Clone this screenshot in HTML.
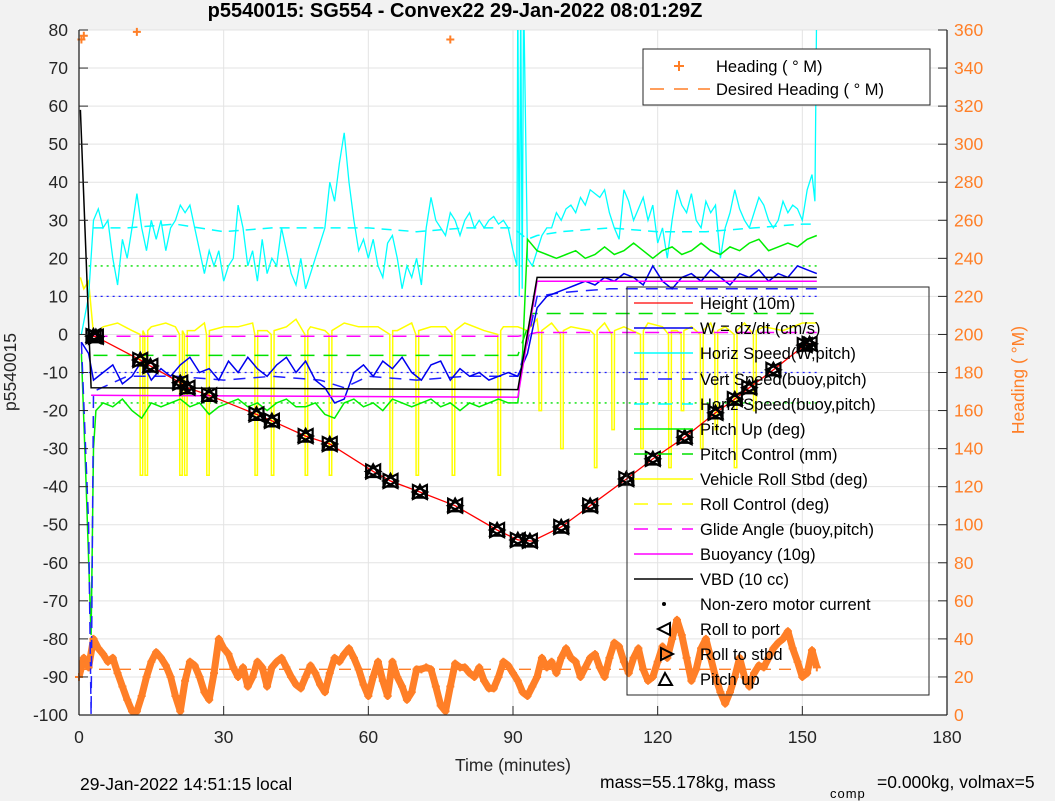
<!DOCTYPE html>
<html><head><meta charset="utf-8"><style>
body{margin:0;background:#f2f2f2;}
svg{display:block;font-family:"Liberation Sans",sans-serif;}
</style></head><body>
<svg id="c" width="1055" height="801" viewBox="0 0 1055 801"></svg>
<script>
// ---- data ----
const xTicks=[0,30,60,90,120,150,180];
const yTicks=[80,70,60,50,40,30,20,10,0,-10,-20,-30,-40,-50,-60,-70,-80,-90,-100];
const rTicks=[0,20,40,60,80,100,120,140,160,180,200,220,240,260,280,300,320,340,360];
const heightT=[2.5,3.5,12.7,14.8,21,22.5,27,36.8,40,47,52,61,64.6,70.7,78,86.7,91,94,100,106,113.5,119,125.6,132,136,139,144,150.5,153];
const heightV=[-0.3,-0.6,-6.7,-8.3,-12.7,-14,-16,-21,-22.7,-26.7,-28.8,-36,-38.5,-41.4,-45,-51.4,-54,-54.3,-50.6,-45,-38,-32.7,-27,-20.6,-17,-14,-9.3,-2.8,-2];
const markT=[3,3.5,12.7,14.8,21,22.5,27,36.8,40,47,52,61,64.6,70.7,78,86.7,91,93.5,100,106,113.5,119,125.6,132,136,139,144,150.5,151.5];
const vbdT=[0.3,2.5,91,95,153];
const vbdV=[59,-14,-14.5,15,15];
const buoyT=[2.5,91,95,153];
const buoyV=[-16,-16.5,14,14];
const glideT=[3,91,95,153];
const glideV=[-0.5,-0.5,0.5,0.5];
const pitchCtlT=[3,91,94,153];
const pitchCtlV=[-5.5,-5.5,5.5,5.5];
const pitchT=[0.5,1.5,2.5,3,3.5,5,7,9,11,13,15,17,19,21,23,25,27,29,31,33,35,37,39,41,43,45,47,49,51,53,55,57,59,61,63,65,67,69,71,73,75,77,79,81,83,85,87,89,91,92,93,95,97,99,101,103,105,107,109,111,113,115,117,119,121,123,125,127,129,131,133,135,137,139,141,143,145,147,149,151,153];
const pitchV=[-5,-40,-79,-30,-20,-18,-19,-17,-20,-22,-18,-19,-18,-17,-19,-18,-21,-19,-18,-17,-19,-18,-20,-18,-17,-19,-19,-18,-21,-22,-18,-17,-19,-18,-20,-17,-18,-19,-18,-17,-19,-18,-20,-18,-19,-18,-17,-18,-18,-5,25,22,21,20,21,22,20,21,23,21,22,24,22,20,22,23,21,22,24,22,21,23,22,24,25,22,23,24,23,25,26];
const wT=[0.5,2,3,5,7,9,11,13,15,17,19,21,23,25,27,29,31,33,35,37,39,41,43,45,47,49,51,53,55,57,59,61,63,65,67,69,71,73,75,77,79,81,83,85,87,89,91,93,95,97,99,101,103,105,107,109,111,113,115,117,119,121,123,125,127,129,131,133,135,137,139,141,143,145,147,149,151,153];
const wV=[-2,-5,-12,-10,-8,-13,-11,-7,-12,-9,-11,-8,-6,-10,-9,-12,-7,-10,-6,-9,-11,-8,-6,-10,-7,-12,-14,-18,-17,-10,-8,-11,-7,-9,-6,-10,-12,-8,-7,-12,-9,-11,-10,-12,-11,-10,-11,-5,7,10,11,12,13,14,13,15,14,16,15,13,18,14,12,15,16,14,17,15,13,16,15,17,14,16,15,18,17,16];
const vsT=[0.5,2,2.5,3,10,20,30,40,50,55,60,70,80,91,93,95,100,110,120,130,140,150,153];
const vsV=[-2,-50,-100,-15,-11,-11,-12,-11,-12,-14,-11,-12,-11,-11,-2,10,11,12,12,12,12,12,12];
const hsT=[0.5,2,3,4,5,6,7,8,9,10,11,12,13,14,15,16,17,18,19,20,21,22,23,24,25,26,27,28,29,30,31,32,33,34,35,36,37,38,39,40,41,42,43,44,45,46,47,48,49,50,51,52,53,54,55,56,57,58,59,60,61,62,63,64,65,66,67,68,69,70,71,72,73,74,75,76,77,78,79,80,81,82,83,84,85,86,87,88,89,90,90.8,91,91.3,91.6,91.9,92.2,93,94,95,96,97,98,99,100,101,102,103,104,105,106,107,108,109,110,111,112,113,114,115,116,117,118,119,120,121,122,123,124,125,126,127,128,129,130,131,132,133,134,135,136,137,138,139,140,141,142,143,144,145,146,147,148,149,150,151,152,152.6,153];
const hsV=[0,10,30,33,28,30,20,13,25,20,28,37,28,22,30,25,30,22,28,30,34,32,34,28,22,16,22,18,22,14,18,20,34,28,18,22,14,25,16,20,18,28,22,16,13,20,12,16,20,24,28,40,35,45,53,40,30,22,25,20,25,18,15,24,26,20,12,18,15,20,13,28,36,30,28,26,32,30,26,30,32,28,30,28,30,31,29,30,28,22,18,90,10,90,12,90,20,18,22,26,28,28,32,30,33,34,32,36,34,38,37,36,38,32,28,25,38,35,30,33,36,30,34,24,28,20,30,38,34,32,37,30,28,35,32,34,20,28,32,38,33,30,28,32,36,34,30,28,30,35,32,34,33,30,38,42,35,90];
const hsdT=[3,10,20,30,40,50,60,70,80,90,93,95,100,110,120,130,140,150,152];
const hsdV=[28,28,29,27,28,28,28,27,28,28,25,26,27,28,27,27,28,29,29];
const rollT=[0.3,1,2,3,5,8,11,15,18,20,24,26,30,33,36,39,43,45,48,51,55,58,62,66,69,73,76,80,84,88,91,93,95,98,102,106,109,113,118,121,124,127,131,134,138,142,146,150,153];
const rollV=[15,12,14,0,2,3,1,2,3,2,1,3,2,2,3,1,2,4,2,1,3,2,2,1,3,2,2,3,1,2,2,1,4,3,2,1,3,2,3,2,1,2,3,2,3,2,1,3,3];
const spikeT=[12.8,13.8,21,22,26.6,36.6,40,47,52,64.6,70,77.5,87,95.5,100,107,110.6,116.6,122.4,125,129,132,136,140];
const spikeV=[-37,-37,-37,-37,-37,-37,-37,-37,-37,-37,-37,-37,-37,-20,-30,-35,-25,-30,-35,-20,-30,-25,-35,-20];
const headT=[];
for(let i=0;i<=153;i++)headT.push(i);
const headV=[20,30,25,40,35,32,28,30,22,15,8,2,2,10,20,28,33,30,26,20,10,2,18,28,26,20,12,8,22,40,35,32,25,20,25,15,20,28,25,15,25,28,30,25,20,16,14,20,26,22,16,12,22,30,28,32,35,30,24,16,10,20,28,18,10,28,20,15,8,12,24,24,25,24,15,5,2,15,27,25,25,22,20,25,18,14,14,20,28,26,22,18,12,10,15,20,30,25,28,22,30,35,30,28,20,25,30,32,25,20,30,38,36,28,22,30,35,24,18,20,28,36,30,40,50,42,30,18,24,35,40,30,20,12,6,12,20,30,20,15,22,26,25,30,35,38,40,44,35,28,20,22,34,25];
const headOutT=[0.5,1,12,77];
const headOutV=[355,357,359,355];
const desiredHead=24;
const greenLim=[18,-18];
const blueLim=[10,-10];
// ---- scales ----
const X=t=>79+t*868/180, Y=v=>30+(80-v)*685/180, YR=d=>715-d*685/360;
const S='http://www.w3.org/2000/svg', svg=document.getElementById('c');
function el(tag,at,parent){const e=document.createElementNS(S,tag);for(const k in at)e.setAttribute(k,at[k]);(parent||svg).appendChild(e);return e;}
function txt(s,at,parent){const e=el('text',at,parent);e.textContent=s;return e;}
const OR='#ff7f27';
const bg=el('rect',{x:79,y:30,width:868,height:685,fill:'#fff'});


const grid=el('g',{stroke:'#e3e3e3','stroke-width':1});


xTicks.forEach(t=>el('line',{x1:X(t),x2:X(t),y1:30,y2:715},grid));
yTicks.forEach(v=>el('line',{x1:79,x2:947,y1:Y(v),y2:Y(v)},grid));
const defs=el('defs',{});
const cp=el('clipPath',{id:'clip'},defs);el('rect',{x:79,y:30,width:868,height:685},cp);
const P=el('g',{'clip-path':'url(#clip)'});
function line(ts,vs,st,name,yf){const f=yf||Y;const d=ts.map((t,i)=>(i?'L':'M')+X(t).toFixed(1)+','+f(vs[i]).toFixed(1)).join('');const p=el('path',Object.assign({d:d,fill:'none'},st),P);return p;}
function hline(v,c,name){const p=el('line',{x1:X(2),x2:X(153),y1:Y(v),y2:Y(v),stroke:c,'stroke-width':1.3,'stroke-dasharray':'2,4'},P);}
greenLim.forEach(v=>hline(v,'#00e000','pitch-limit-line'));
blueLim.forEach(v=>hline(v,'#2020ff','w-limit-line'));
line([0,153],[desiredHead,desiredHead],{stroke:OR,'stroke-width':1.3,'stroke-dasharray':'12,8'},'desired-heading-line',YR);
line(headT,headV,{stroke:OR,'stroke-width':7,'stroke-linejoin':'round'},'heading-trace',YR);
const hg=el('g',{stroke:OR,'stroke-width':2});


function plus(x,y){el('path',{d:`M${x-4},${y}h8M${x},${y-4}v8`},hg);}
headT.forEach((t,i)=>plus(X(t),YR(headV[i])));
headOutT.forEach((t,i)=>plus(X(t),YR(headOutV[i])));
const rp=[];let si=0;
rollT.forEach((t,i)=>{while(si<spikeT.length&&spikeT[si]<t){const s=spikeT[si];rp.push([s-0.15,0],[s-0.1,spikeV[si]],[s+0.4,spikeV[si]],[s+0.45,1]);si++;}rp.push([t,rollV[i]]);});
line(rp.map(p=>p[0]),rp.map(p=>p[1]),{stroke:'#ffff00','stroke-width':1.5},'vehicle-roll-line');
line(hsT,hsV,{stroke:'#00ffff','stroke-width':1.3},'horiz-speed-line');
line(hsdT,hsdV,{stroke:'#00ffff','stroke-width':1.5,'stroke-dasharray':'10,7'},'horiz-speed-buoy-line');
line(pitchCtlT,pitchCtlV,{stroke:'#00e000','stroke-width':1.5,'stroke-dasharray':'14,9'},'pitch-control-line');
line(glideT,glideV,{stroke:'#ff00ff','stroke-width':1.5,'stroke-dasharray':'14,9'},'glide-angle-line');
line(pitchT,pitchV,{stroke:'#00ee00','stroke-width':1.5},'pitch-up-line');
line(vsT,vsV,{stroke:'#2020ff','stroke-width':1.5,'stroke-dasharray':'12,8'},'vert-speed-line');
line(wT,wV,{stroke:'#0000ee','stroke-width':1.5},'w-line');
line(buoyT,buoyV,{stroke:'#ff00ff','stroke-width':1.5},'buoyancy-line');
line(vbdT,vbdV,{stroke:'#000','stroke-width':1.5},'vbd-line');
line(heightT,heightV,{stroke:'#ff0000','stroke-width':1.3},'height-line');
const mg=el('g',{stroke:'#000','stroke-width':2.2,fill:'none'},P);


function interpH(t){for(let i=1;i<heightT.length;i++)if(t<=heightT[i]){const a=heightT[i-1],b=heightT[i];return heightV[i-1]+(heightV[i]-heightV[i-1])*(t-a)/(b-a);}return heightV[heightV.length-1];}
markT.forEach(t=>{const x=X(t),y=Y(interpH(t)),r=7;
el('path',{d:`M${x+r},${y-r}L${x-r},${y}L${x+r},${y+r}Z`},mg);
el('path',{d:`M${x-r},${y-r}L${x+r},${y}L${x-r},${y+r}Z`},mg);
el('path',{d:`M${x},${y-r}L${x-r},${y+r*0.8}L${x+r},${y+r*0.8}Z`},mg);});
const ax=el('g',{'font-size':17.5,fill:'#262626'});


el('line',{x1:79,y1:30,x2:79,y2:715,stroke:'#262626','stroke-width':1.3},ax);
el('line',{x1:79,y1:715,x2:947,y2:715,stroke:'#262626','stroke-width':1.3},ax);
el('line',{x1:947,y1:30,x2:947,y2:715,stroke:'#262626','stroke-width':1.3},ax);
xTicks.forEach(t=>{el('line',{x1:X(t),x2:X(t),y1:715,y2:706,stroke:'#262626'},ax);const e=txt(String(t),{x:X(t),y:743,'text-anchor':'middle'},ax);});
yTicks.forEach(v=>{el('line',{x1:79,x2:88,y1:Y(v),y2:Y(v),stroke:'#262626'},ax);const e=txt(String(v),{x:68,y:Y(v)+6,'text-anchor':'end'},ax);});
rTicks.forEach(d=>{el('line',{x1:947,x2:938,y1:YR(d),y2:YR(d),stroke:'#262626'},ax);const e=txt(String(d),{x:954,y:YR(d)+6,fill:OR},ax);});
</script>
<div style="position:absolute;left:0;top:0;width:1055px;height:801px;pointer-events:none;font-family:'Liberation Sans',sans-serif;">
<svg width="1055" height="801" style="position:absolute;left:0;top:0">
<text x="455" y="17" text-anchor="middle" font-size="20" font-weight="bold" fill="#000">p5540015: SG554 - Convex22 29-Jan-2022 08:01:29Z</text>
<text x="513" y="771" text-anchor="middle" font-size="17.5" fill="#262626">Time (minutes)</text>
<text transform="translate(16,372) rotate(-90)" text-anchor="middle" font-size="17.5" fill="#262626">p5540015</text>
<text transform="translate(1024,380) rotate(-90)" text-anchor="middle" font-size="17.5" fill="#ff7f27">Heading (  °M)</text>
<text x="80" y="790" font-size="17.5" fill="#000">29-Jan-2022 14:51:15 local</text>
<text x="600" y="788" font-size="17.5" fill="#000">mass=55.178kg, mass</text>
<text x="830" y="798" font-size="13" fill="#000" letter-spacing="1">comp</text>
<text x="877" y="788" font-size="17.5" fill="#000">=0.000kg, volmax=5</text>
<g>
<rect x="643" y="49" width="287" height="56" fill="#fff" stroke="#262626" stroke-width="1"/>
<path d="M674,66h10M679,61v10" stroke="#ff7f27" stroke-width="2"/>
<text x="716" y="72" font-size="16.5" fill="#000">Heading (  ° M)</text>
<line x1="650" y1="89" x2="710" y2="89" stroke="#ff7f27" stroke-width="1.5" stroke-dasharray="14,10"/>
<text x="716" y="95" font-size="16.5" fill="#000">Desired Heading (    ° M)</text>
</g>
<g font-size="16.5" fill="#000">
<rect x="627" y="287" width="302" height="408" fill="none" stroke="#262626" stroke-width="1"/>
<line x1="634" x2="693" y1="303" y2="303" stroke="#ff0000" stroke-width="1.3"/><text x="700" y="309">Height (10m)</text>
<line x1="634" x2="693" y1="328" y2="328" stroke="#0000ee" stroke-width="1.5"/><text x="700" y="334">W = dz/dt (cm/s)</text>
<line x1="634" x2="693" y1="353" y2="353" stroke="#00ffff" stroke-width="1.5"/><text x="700" y="359">Horiz Speed(W,pitch)</text>
<line x1="634" x2="693" y1="379" y2="379" stroke="#2020ff" stroke-width="1.5" stroke-dasharray="14,10"/><text x="700" y="385">Vert Speed(buoy,pitch)</text>
<line x1="634" x2="693" y1="404" y2="404" stroke="#00ffff" stroke-width="1.5" stroke-dasharray="14,10"/><text x="700" y="410">Horiz Speed(buoy,pitch)</text>
<line x1="634" x2="693" y1="429" y2="429" stroke="#00ee00" stroke-width="1.5"/><text x="700" y="435">Pitch Up (deg)</text>
<line x1="634" x2="693" y1="454" y2="454" stroke="#00e000" stroke-width="1.5" stroke-dasharray="14,10"/><text x="700" y="460">Pitch Control (mm)</text>
<line x1="634" x2="693" y1="479" y2="479" stroke="#ffff00" stroke-width="1.5"/><text x="700" y="485">Vehicle Roll Stbd (deg)</text>
<line x1="634" x2="693" y1="504" y2="504" stroke="#ffff00" stroke-width="1.5" stroke-dasharray="14,10"/><text x="700" y="510">Roll Control (deg)</text>
<line x1="634" x2="693" y1="529" y2="529" stroke="#ff00ff" stroke-width="1.5" stroke-dasharray="14,10"/><text x="700" y="535">Glide Angle (buoy,pitch)</text>
<line x1="634" x2="693" y1="554" y2="554" stroke="#ff00ff" stroke-width="1.5"/><text x="700" y="560">Buoyancy (10g)</text>
<line x1="634" x2="693" y1="579" y2="579" stroke="#000" stroke-width="1.5"/><text x="700" y="585">VBD (10 cc)</text>
<circle cx="664" cy="604" r="2" fill="#000"/><text x="700" y="610">Non-zero motor current</text>
<path d="M670,623L658,629L670,635Z" fill="none" stroke="#000" stroke-width="2"/><text x="700" y="635">Roll to port</text>
<path d="M661,648L673,654L661,660Z" fill="none" stroke="#000" stroke-width="2"/><text x="700" y="660">Roll to stbd</text>
<path d="M665,673L659,685L672,685Z" fill="none" stroke="#000" stroke-width="2"/><text x="700" y="685">Pitch up</text>
</g>
</svg></div>
</body></html>
